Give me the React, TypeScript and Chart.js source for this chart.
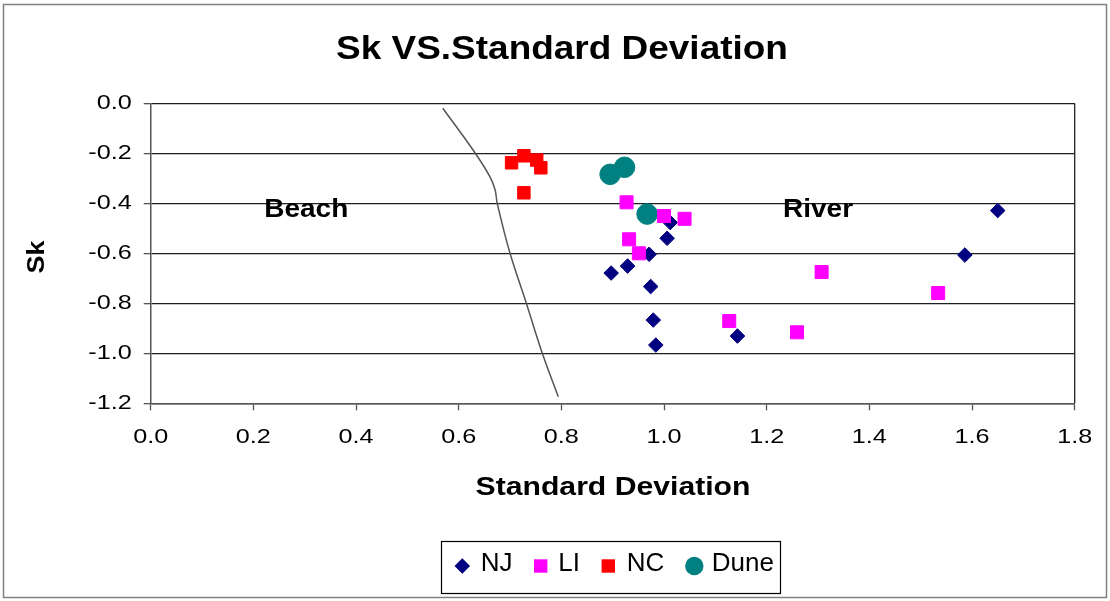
import React, { useEffect, useRef } from 'react';
import { Chart, registerables } from 'chart.js';

Chart.register(...registerables);

const chartTitle = 'Sk VS.Standard Deviation';
const xAxisTitle = 'Standard Deviation';
const yAxisTitle = 'Sk';

const xMin = 0;
const xMax = 1.8;
const yMin = -1.2;
const yMax = 0;
const tickStep = 0.2;

const njX = [1.012, 1.006, 0.971, 0.929, 0.897, 0.974, 0.979, 0.984, 1.143, 1.65, 1.586];
const njY = [-0.477, -0.54, -0.604, -0.651, -0.679, -0.733, -0.867, -0.967, -0.931, -0.429, -0.607];

const liX = [0.927, 1.0, 1.04, 0.932, 0.951, 1.127, 1.259, 1.307, 1.534];
const liY = [-0.396, -0.451, -0.462, -0.544, -0.6, -0.871, -0.916, -0.675, -0.759];

const ncX = [0.703, 0.727, 0.752, 0.76, 0.727];
const ncY = [-0.238, -0.21, -0.227, -0.258, -0.358];

const duneX = [0.895, 0.923, 0.967];
const duneY = [-0.284, -0.256, -0.443];

const boundaryX = [0.569, 0.628, 0.661, 0.671, 0.675, 0.7, 0.731, 0.762, 0.794];
const boundaryY = [-0.02, -0.187, -0.294, -0.347, -0.4, -0.6, -0.795, -0.995, -1.174];

const regionNames = ['Beach', 'River'];
const regionX = [0.303, 1.3];
const regionY = [-0.427, -0.427];

const seriesNames = ['NJ', 'LI', 'NC', 'Dune'];
const seriesColors = ['#000080', '#FF00FF', '#FF0000', '#008080'];
const seriesShapes = ['diamond', 'square', 'square', 'circle'];

const FONT = "'Liberation Sans', Arial, sans-serif";

function pts(xs: number[], ys: number[]) {
  return xs.map((x, i) => ({ x, y: ys[i] }));
}

function stretchText(
  ctx: CanvasRenderingContext2D,
  text: string,
  x: number,
  y: number,
  font: string,
  sx: number,
  align: CanvasTextAlign,
  rotate = 0
) {
  ctx.save();
  ctx.translate(x, y);
  if (rotate) ctx.rotate(rotate);
  ctx.scale(sx, 1);
  ctx.font = font;
  ctx.textAlign = align;
  ctx.textBaseline = 'middle';
  ctx.fillStyle = '#000';
  ctx.fillText(text, 0, 0);
  ctx.restore();
}

function drawMarker(ctx: CanvasRenderingContext2D, shape: string, x: number, y: number, color: string, size: number) {
  ctx.save();
  ctx.fillStyle = color;
  ctx.beginPath();
  if (shape === 'diamond') {
    ctx.moveTo(x, y - size);
    ctx.lineTo(x + size, y);
    ctx.lineTo(x, y + size);
    ctx.lineTo(x - size, y);
    ctx.closePath();
  } else if (shape === 'square') {
    ctx.rect(x - size, y - size, size * 2, size * 2);
  } else {
    ctx.arc(x, y, size, 0, Math.PI * 2);
  }
  ctx.fill();
  ctx.restore();
}

const decorPlugin = {
  id: 'decor',
  beforeDatasetsDraw(chart: any) {
    const { ctx, chartArea } = chart;
    ctx.save();
    ctx.strokeStyle = '#222';
    ctx.lineWidth = 1.3;
    ctx.beginPath();
    ctx.moveTo(chartArea.right, chartArea.top);
    ctx.lineTo(chartArea.right, chartArea.bottom);
    ctx.stroke();
    ctx.restore();
  },
  afterDraw(chart: any) {
    const { ctx, chartArea } = chart;
    const xs = chart.scales.x;
    const ys = chart.scales.y;

    // outer border
    ctx.save();
    ctx.strokeStyle = '#808080';
    ctx.lineWidth = 1.5;
    ctx.strokeRect(3.5, 4.5, 1103, 593);
    ctx.restore();

    // tick labels
    const tickFont = `21px ${FONT}`;
    ys.ticks.forEach((t: any) => {
      const py = ys.getPixelForValue(t.value);
      const label = Math.abs(t.value) < 1e-9 ? '0.0' : t.value.toFixed(1);
      stretchText(ctx, label, chartArea.left - 19, py, tickFont, 1.2, 'right');
    });
    xs.ticks.forEach((t: any) => {
      const px = xs.getPixelForValue(t.value);
      const label = Math.abs(t.value) < 1e-9 ? '0.0' : t.value.toFixed(1);
      stretchText(ctx, label, px, 437, tickFont, 1.2, 'center');
    });

    // titles
    stretchText(ctx, chartTitle, 562, 50, `bold 33px ${FONT}`, 1.12, 'center');
    stretchText(ctx, xAxisTitle, 613, 488, `bold 26px ${FONT}`, 1.16, 'center');
    stretchText(ctx, yAxisTitle, 37, 257, `bold 24px ${FONT}`, 1.12, 'center', -Math.PI / 2);

    // region labels
    regionNames.forEach((name, i) => {
      stretchText(
        ctx,
        name,
        xs.getPixelForValue(regionX[i]),
        ys.getPixelForValue(regionY[i]),
        `bold 25px ${FONT}`,
        1.12,
        'center'
      );
    });

    // legend
    ctx.save();
    ctx.strokeStyle = '#000';
    ctx.lineWidth = 1.2;
    ctx.strokeRect(441.5, 541.5, 339, 52);
    ctx.restore();
    const markerX = [462.3, 540.7, 608.3, 694.3];
    const textX = [480.7, 558.3, 626.7, 711.7];
    const markerSize = [7.8, 6.7, 6.7, 9.2];
    seriesNames.forEach((name, i) => {
      drawMarker(ctx, seriesShapes[i], markerX[i], 566, seriesColors[i], markerSize[i]);
      stretchText(ctx, name, textX[i], 564, `26px ${FONT}`, 1.0, 'left');
    });
  },
};

export default function App() {
  const canvasRef = useRef<HTMLCanvasElement | null>(null);

  useEffect(() => {
    const canvas = canvasRef.current;
    if (!canvas) return;
    const chart = new Chart(canvas, {
      type: 'scatter',
      data: {
        datasets: [
          {
            label: seriesNames[1],
            data: pts(liX, liY),
            pointStyle: 'rect',
            pointRadius: 9.2,
            backgroundColor: seriesColors[1],
            borderColor: seriesColors[1],
            borderWidth: 1,
            order: 0,
          },
          {
            label: seriesNames[0],
            data: pts(njX, njY),
            pointStyle: 'rectRot',
            pointRadius: 7.3,
            backgroundColor: seriesColors[0],
            borderColor: seriesColors[0],
            borderWidth: 1,
            order: 1,
          },
          {
            label: seriesNames[3],
            data: pts(duneX, duneY),
            pointStyle: 'circle',
            pointRadius: 10.3,
            backgroundColor: seriesColors[3],
            borderColor: seriesColors[3],
            borderWidth: 1,
            order: 2,
          },
          {
            label: seriesNames[2],
            data: pts(ncX, ncY),
            pointStyle: 'rect',
            pointRadius: 8.8,
            backgroundColor: seriesColors[2],
            borderColor: seriesColors[2],
            borderWidth: 1,
            order: 3,
          },
          {
            label: 'boundary',
            data: pts(boundaryX, boundaryY),
            showLine: true,
            pointRadius: 0,
            borderColor: '#555',
            borderWidth: 1.5,
            tension: 0.35,
            order: 4,
          } as any,
        ],
      },
      options: {
        responsive: false,
        animation: false,
        events: [],
        layout: {
          autoPadding: false,
          padding: { left: 0, top: 103.3, right: 35.3, bottom: 0 },
        } as any,
        plugins: {
          legend: { display: false },
          title: { display: false },
          tooltip: { enabled: false },
        },
        scales: {
          x: {
            type: 'linear',
            min: xMin,
            max: xMax,
            ticks: { stepSize: tickStep, display: false },
            grid: {
              drawOnChartArea: false,
              drawTicks: true,
              tickLength: 7,
              tickColor: '#555',
              tickWidth: 1.3,
            },
            border: { display: true, color: '#555', width: 1.5 },
            afterFit: (s: any) => {
              s.height = 197.7;
            },
          },
          y: {
            type: 'linear',
            min: yMin,
            max: yMax,
            ticks: { stepSize: tickStep, display: false },
            grid: {
              color: '#1e1e1e',
              lineWidth: 1.3,
              drawTicks: true,
              tickLength: 7,
              tickColor: '#555',
              tickWidth: 1.3,
            },
            border: { display: true, color: '#555', width: 1.5 },
            afterFit: (s: any) => {
              s.width = 150.7;
            },
          },
        },
      },
      plugins: [decorPlugin],
    });
    return () => chart.destroy();
  }, []);

  return (
    <div style={{ position: 'absolute', left: 0, top: 0, width: 1110, height: 601, background: '#fff' }}>
      <canvas ref={canvasRef} width={1110} height={601} style={{ display: 'block' }} />
    </div>
  );
}
